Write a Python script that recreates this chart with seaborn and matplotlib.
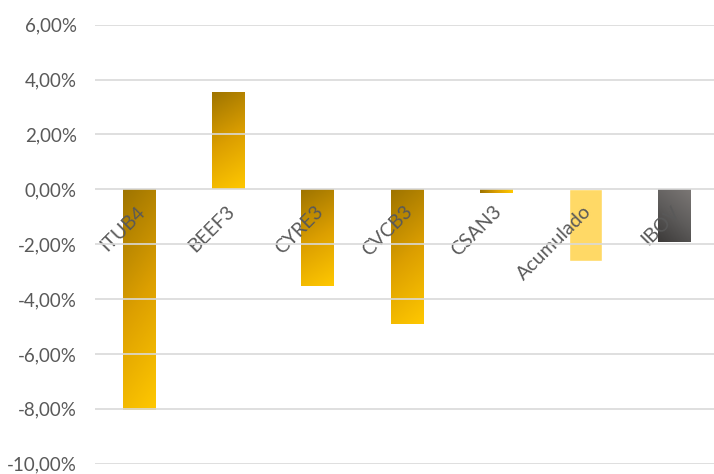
import numpy as np
import pandas as pd
import matplotlib
matplotlib.use("Agg")
import matplotlib.pyplot as plt
from matplotlib.colors import LinearSegmentedColormap
from matplotlib.ticker import FuncFormatter
from matplotlib.transforms import ScaledTranslation
import seaborn as sns

# returns (%)
tickers = ["ITUB4", "BEEF3", "CYRE3", "CVCB3", "CSAN3", "Acumulado", "IBOV"]
returns = [-8.06, 3.55, -3.51, -4.92, -0.12, -2.63, -1.91]

df = pd.DataFrame({"ticker": tickers, "ret": returns})

sns.set_theme(style="white")
plt.rcParams["font.family"] = ["Lato", "DejaVu Sans"]

gold = LinearSegmentedColormap.from_list("gold", ["#9e7400", "#dc9f00", "#ffc800"])
grey = LinearSegmentedColormap.from_list("grey", ["#3c3a39", "#5e5c5b", "#7b7775"])

fig = plt.figure(figsize=(7.14, 4.74), dpi=100)
ax = fig.add_axes([95 / 714, 1 - 463.7 / 474, 624 / 714, (463.7 - 24.7) / 474])

sns.barplot(data=df, x="ticker", y="ret", ax=ax, width=0.37, color="#ffc800",
            saturation=1, zorder=2)

# gradient fills, scaled to each bar (Excel style diagonal gradient)
u, v = np.meshgrid(np.linspace(0, 1, 40), np.linspace(0, 1, 200))
for name, patch in zip(tickers, ax.patches):
    x0, w = patch.get_x(), patch.get_width()
    y0, h = patch.get_y(), patch.get_height()
    ylo, yhi = min(y0, y0 + h), max(y0, y0 + h)
    if name == "Acumulado":
        patch.set_facecolor("#ffd966")
        continue
    if name == "IBOV":
        img, cmap = (0.5 * u + (1 - v)) / 1.5, grey
    else:
        img, cmap = (u * 0.2 + v) / 1.2, gold
    if abs(h) < 0.3:
        img = u
    im = ax.imshow(img, cmap=cmap, extent=[x0, x0 + w, ylo, yhi], origin="upper",
                   aspect="auto", zorder=2, interpolation="bilinear")
    im.set_clip_path(patch)
    patch.set_facecolor("none")

ax.set_xlim(-0.5, len(tickers) - 0.5)
ax.set_ylim(-10, 6)
ax.set_yticks(np.arange(-10, 7, 2))
ax.yaxis.set_major_formatter(FuncFormatter(lambda y, _: f"{y:.2f}%".replace(".", ",")))
ax.grid(axis="y", color="#d9d9d9", linewidth=1.2, zorder=0)
ax.set_axisbelow(False)
for s in ax.spines.values():
    s.set_visible(False)
ax.spines["bottom"].set_position(("data", 0))
ax.set_xlabel("")
ax.set_ylabel("")
ax.tick_params(axis="both", length=0, labelcolor="#595959")
ax.tick_params(axis="x", pad=14, labelsize=14)
ax.tick_params(axis="y", pad=13, labelsize=13.5)
shift = ScaledTranslation(3 / 100, 0, fig.dpi_scale_trans)
for lab in ax.get_xticklabels():
    lab.set_rotation(45)
    lab.set_ha("right")
    lab.set_va("center")
    lab.set_rotation_mode("anchor")
    lab.set_transform(lab.get_transform() + shift)

fig.savefig("out.png", dpi=100)
